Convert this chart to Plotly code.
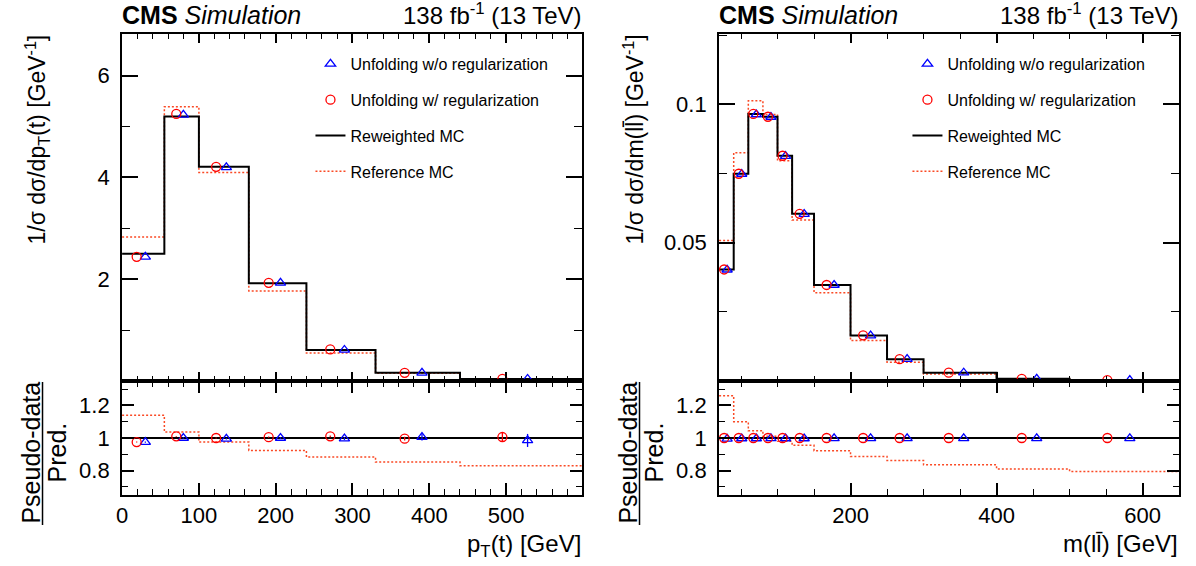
import plotly.graph_objects as go

# ---------------- data: top-quark pT ----------------
pt_edges = [0, 55, 100, 165, 240, 330, 440, 600]
pt_reweighted = [2.50, 5.20, 4.21, 1.92, 0.61, 0.16, 0.04]
pt_reference = [2.83, 5.39, 4.10, 1.77, 0.55, 0.15, 0.035]
pt_unreg = [2.44, 5.23, 4.20, 1.93, 0.61, 0.16, 0.04]
pt_reg = [2.44, 5.25, 4.21, 1.93, 0.62, 0.16, 0.04]
pt_ratio_ref = [1.14, 1.037, 0.975, 0.924, 0.883, 0.852, 0.83]
pt_ratio_unreg = [0.975, 1.0, 0.995, 1.0, 0.996, 1.005, 0.985]
pt_ratio_unreg_err = [0.004, 0.004, 0.004, 0.005, 0.008, 0.02, 0.04]
pt_ratio_reg = [0.975, 1.01, 1.0, 1.005, 1.01, 0.996, 1.006]
pt_ratio_reg_err = [0.003, 0.003, 0.003, 0.004, 0.006, 0.012, 0.03]
pt_ytick_vals = [2, 4, 6]

# ---------------- data: dilepton mass ----------------
mll_edges = [20, 40, 60, 80, 100, 120, 150, 200, 250, 300, 400, 500, 650]
mll_reweighted = [0.0403, 0.0749, 0.0965, 0.0955, 0.0814, 0.0604, 0.0347, 0.0164, 0.0079, 0.0030, 0.0008, 0.0003]
mll_reference = [0.0508, 0.0825, 0.1013, 0.0963, 0.0796, 0.0582, 0.0319, 0.0146, 0.0068, 0.0025, 0.0007, 0.00025]
mll_unreg = [0.0402, 0.0748, 0.0963, 0.0954, 0.0813, 0.0603, 0.0347, 0.0164, 0.0079, 0.0030, 0.0008, 0.0003]
mll_reg = [0.0403, 0.0749, 0.0965, 0.0955, 0.0814, 0.0604, 0.0347, 0.0165, 0.0079, 0.0030, 0.0008, 0.0003]
mll_ratio_ref = [1.26, 1.10, 1.045, 1.01, 0.98, 0.955, 0.922, 0.887, 0.862, 0.836, 0.81, 0.795]
mll_ratio_unreg = [0.995, 0.997, 0.997, 0.998, 0.997, 0.997, 0.998, 0.998, 0.998, 0.998, 0.998, 0.998]
mll_ratio_reg = [1.0, 1.0, 1.0, 1.0, 1.0, 1.0, 1.0, 1.0, 1.0, 1.0, 1.0, 1.0]
mll_ytick_vals = [0.05, 0.1]

# ---------------- styling / geometry ----------------
W, H = 1196, 566
FONT = "Liberation Sans, Arial, Helvetica, sans-serif"
RED_REF = "#fa4a25"
BLUE = "#0000ff"
RED = "#ff0000"
DOT = "2px,2px"


def fx(p):
    return p / W


def fy(p):
    return 1 - p / H


PANELS = [
    dict(x0=116.7, x1=579.0, edges=pt_edges, rw=pt_reweighted, ref=pt_reference,
         unreg=pt_unreg, reg=pt_reg, rref=pt_ratio_ref, runreg=pt_ratio_unreg,
         runreg_err=pt_ratio_unreg_err, rreg=pt_ratio_reg, rreg_err=pt_ratio_reg_err,
         xt="x", yt="y", xr="x2", yr="y2", legend="legend",
         ytitle="1/σ dσ/dp<sub>T</sub>(t) [GeV<sup>-1</sup>]",
         xtitle="p<sub>T</sub>(t) [GeV]"),
    dict(x0=716.7, x1=1179.0, edges=mll_edges, rw=mll_reweighted, ref=mll_reference,
         unreg=mll_unreg, reg=mll_reg, rref=mll_ratio_ref, runreg=mll_ratio_unreg,
         runreg_err=None, rreg=mll_ratio_reg, rreg_err=None,
         xt="x3", yt="y3", xr="x4", yr="y4", legend="legend2",
         ytitle="1/σ dσ/dm(ll\u0304) [GeV<sup>-1</sup>]",
         xtitle="m(ll\u0304) [GeV]"),
]

TOP_Y0, SPLIT_Y, BOT_Y1 = 34, 381, 495
OFF_REG, OFF_UNREG = -0.155, 0.05

fig = go.Figure()

for i, P in enumerate(PANELS):
    e = P["edges"]
    centers = [(a + b) / 2 for a, b in zip(e[:-1], e[1:])]
    widths = [b - a for a, b in zip(e[:-1], e[1:])]
    x_reg = [c + OFF_REG * w for c, w in zip(centers, widths)]
    x_unreg = [c + OFF_UNREG * w for c, w in zip(centers, widths)]
    lg = P["legend"]
    grp = f"p{i}"

    # top panel
    fig.add_trace(go.Scatter(x=e, y=P["ref"] + [P["ref"][-1]], mode="lines", line_shape="hv",
                             line=dict(color=RED_REF, width=1.5, dash=DOT),
                             name="Reference MC", legend=lg, legendgroup=grp + "d", legendrank=4,
                             xaxis=P["xt"], yaxis=P["yt"]))
    fig.add_trace(go.Scatter(x=e, y=P["rw"] + [P["rw"][-1]], mode="lines", line_shape="hv",
                             line=dict(color="black", width=2),
                             name="Reweighted MC", legend=lg, legendgroup=grp + "c", legendrank=3,
                             xaxis=P["xt"], yaxis=P["yt"]))
    fig.add_trace(go.Scatter(x=x_unreg, y=P["unreg"], mode="markers",
                             marker=dict(symbol="triangle-up-open", size=9, color=BLUE, line=dict(width=1.3, color=BLUE)),
                             name="Unfolding w/o regularization", legend=lg, legendgroup=grp + "a", legendrank=1,
                             xaxis=P["xt"], yaxis=P["yt"]))
    fig.add_trace(go.Scatter(x=x_reg, y=P["reg"], mode="markers",
                             marker=dict(symbol="circle-open", size=9, color=RED, line=dict(width=1.3, color=RED)),
                             name="Unfolding w/ regularization", legend=lg, legendgroup=grp + "b", legendrank=2,
                             xaxis=P["xt"], yaxis=P["yt"]))

    # ratio panel
    fig.add_trace(go.Scatter(x=e, y=P["rref"] + [P["rref"][-1]], mode="lines", line_shape="hv",
                             line=dict(color=RED_REF, width=1.5, dash=DOT), showlegend=False,
                             xaxis=P["xr"], yaxis=P["yr"]))
    fig.add_trace(go.Scatter(x=[e[0], e[-1]], y=[1.0, 1.0], mode="lines",
                             line=dict(color="black", width=2), showlegend=False,
                             xaxis=P["xr"], yaxis=P["yr"]))
    err_u = dict(type="data", array=P["runreg_err"], color=BLUE, thickness=1.3, width=0) if P["runreg_err"] else None
    err_r = dict(type="data", array=P["rreg_err"], color=RED, thickness=1.3, width=0) if P["rreg_err"] else None
    fig.add_trace(go.Scatter(x=x_unreg, y=P["runreg"], mode="markers", error_y=err_u,
                             marker=dict(symbol="triangle-up-open", size=9, color=BLUE, line=dict(width=1.3, color=BLUE)),
                             showlegend=False, xaxis=P["xr"], yaxis=P["yr"]))
    fig.add_trace(go.Scatter(x=x_reg, y=P["rreg"], mode="markers", error_y=err_r,
                             marker=dict(symbol="circle-open", size=9, color=RED, line=dict(width=1.3, color=RED)),
                             showlegend=False, xaxis=P["xr"], yaxis=P["yr"]))

axis_common = dict(showline=True, linecolor="black", linewidth=2, mirror="allticks",
                   ticks="inside", tickcolor="black", tickwidth=1.5, showgrid=False, zeroline=False,
                   tickfont=dict(family=FONT, size=22, color="black"))


def minor(dt, ln):
    return dict(tickmode="linear", tick0=0, dtick=dt, ticklen=ln, ticks="inside",
                tickcolor="black", tickwidth=1.2)


layout_axes = {}
# left panel
layout_axes["xaxis"] = dict(axis_common, domain=[fx(116.7), fx(579.0)], anchor="y", range=[0, 599],
                            tick0=0, dtick=100, ticklen=9, showticklabels=False, minor=minor(20, 5))
layout_axes["yaxis"] = dict(axis_common, domain=[fy(SPLIT_Y), fy(TOP_Y0)], anchor="x", range=[0, 6.82],
                            tickmode="array", tickvals=pt_ytick_vals, ticklen=16, ticklabelstandoff=6,
                            minor=minor(1, 8))
layout_axes["xaxis2"] = dict(axis_common, domain=[fx(116.7), fx(579.0)], anchor="y2", range=[0, 599],
                             tick0=0, dtick=100, ticklen=12, minor=minor(20, 6))
layout_axes["yaxis2"] = dict(axis_common, domain=[fy(BOT_Y1), fy(SPLIT_Y)], anchor="x2", range=[0.65, 1.35],
                             tick0=0, dtick=0.2, ticklen=12, ticklabelstandoff=6, minor=minor(0.1, 6))
# right panel
layout_axes["xaxis3"] = dict(axis_common, domain=[fx(716.7), fx(1179.0)], anchor="y3", range=[20, 650],
                             tick0=0, dtick=200, ticklen=9, showticklabels=False, minor=minor(50, 5))
layout_axes["yaxis3"] = dict(axis_common, domain=[fy(SPLIT_Y), fy(TOP_Y0)], anchor="x3", range=[0, 0.1254],
                             tickmode="array", tickvals=mll_ytick_vals, ticklen=16, ticklabelstandoff=6,
                             minor=minor(0.025, 8))
layout_axes["xaxis4"] = dict(axis_common, domain=[fx(716.7), fx(1179.0)], anchor="y4", range=[20, 650],
                             tick0=0, dtick=200, ticklen=12, minor=minor(50, 6))
layout_axes["yaxis4"] = dict(axis_common, domain=[fy(BOT_Y1), fy(SPLIT_Y)], anchor="x4", range=[0.65, 1.35],
                             tick0=0, dtick=0.2, ticklen=12, ticklabelstandoff=6, minor=minor(0.1, 6))

annotations = []
shapes = []
for P in PANELS:
    x0, x1 = P["x0"], P["x1"]
    annotations.append(dict(xref="paper", yref="paper", x=fx(x0 - 2), y=fy(31), xanchor="left", yanchor="bottom",
                            text="<b>CMS</b> <i>Simulation</i>", showarrow=False,
                            font=dict(family=FONT, size=25, color="black")))
    annotations.append(dict(xref="paper", yref="paper", x=fx(x1 + 2), y=fy(31), xanchor="right", yanchor="bottom",
                            text="138 fb<sup>-1</sup> (13 TeV)", showarrow=False,
                            font=dict(family=FONT, size=24, color="black")))
    annotations.append(dict(xref="paper", yref="paper", x=fx(x0 - 86), y=fy(33), xanchor="center", yanchor="top",
                            text=P["ytitle"], textangle=-90, showarrow=False,
                            font=dict(family=FONT, size=23, color="black")))
    annotations.append(dict(xref="paper", yref="paper", x=fx(x1 + 1), y=fy(528), xanchor="right", yanchor="top",
                            text=P["xtitle"], showarrow=False,
                            font=dict(family=FONT, size=24, color="black")))
    annotations.append(dict(xref="paper", yref="paper", x=fx(x0 - 92), y=fy(453), xanchor="center", yanchor="middle",
                            text="Pseudo-data", textangle=-90, showarrow=False,
                            font=dict(family=FONT, size=25, color="black")))
    annotations.append(dict(xref="paper", yref="paper", x=fx(x0 - 65), y=fy(452), xanchor="center", yanchor="middle",
                            text="Pred.", textangle=-90, showarrow=False,
                            font=dict(family=FONT, size=25, color="black")))
    shapes.append(dict(type="line", xref="paper", yref="paper", x0=fx(x0 - 80), x1=fx(x0 - 80),
                       y0=fy(382), y1=fy(525), line=dict(color="black", width=1.5)))

legend_common = dict(xanchor="left", yanchor="top", bgcolor="rgba(0,0,0,0)",
                     font=dict(family=FONT, size=16, color="black"), traceorder="grouped",
                     tracegroupgap=12, itemwidth=30)

fig.update_layout(
    width=W, height=H, autosize=False,
    margin=dict(l=0, r=0, t=0, b=0),
    paper_bgcolor="white", plot_bgcolor="white",
    font=dict(family=FONT, color="black"),
    annotations=annotations, shapes=shapes,
    legend=dict(legend_common, x=fx(306), y=fy(47)),
    legend2=dict(legend_common, x=fx(906), y=fy(47)),
    **layout_axes,
)

fig.write_html("out.html", config={"displayModeBar": False},
               post_script="document.body.style.margin='0';document.body.style.padding='0';")
